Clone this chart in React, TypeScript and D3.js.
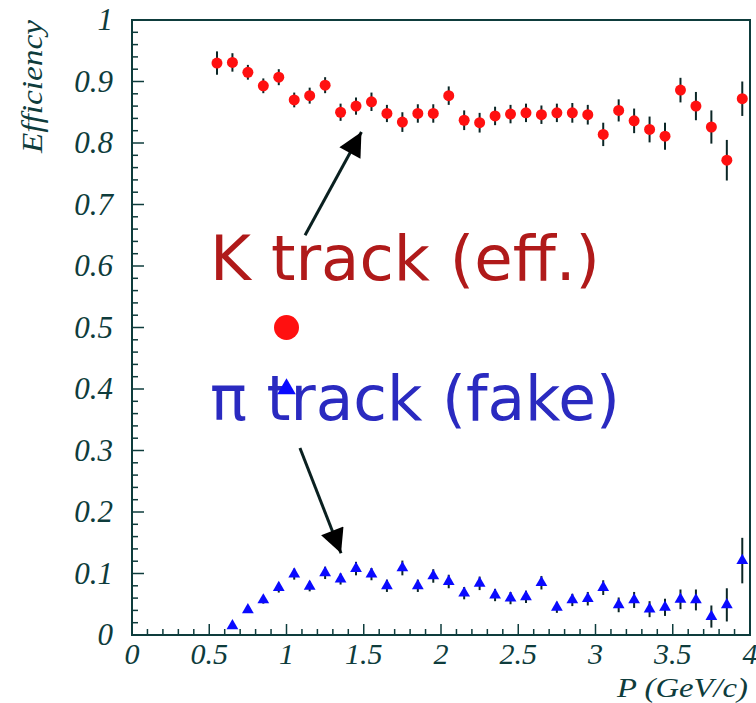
import React, { useEffect, useRef } from 'react';
import * as d3 from 'd3';

// K efficiency (red circles)
const kP = [0.55, 0.65, 0.75, 0.85, 0.95, 1.05, 1.15, 1.25, 1.35, 1.45, 1.55, 1.65, 1.75, 1.85, 1.95,
  2.05, 2.15, 2.25, 2.35, 2.45, 2.55, 2.65, 2.75, 2.85, 2.95, 3.05, 3.15, 3.25, 3.35, 3.45, 3.55,
  3.65, 3.75, 3.85, 3.95];
const kEff = [0.930, 0.931, 0.915, 0.893, 0.907, 0.870, 0.877, 0.894, 0.850, 0.860, 0.867, 0.848,
  0.834, 0.848, 0.848, 0.877, 0.837, 0.833, 0.844, 0.847, 0.849, 0.846, 0.849, 0.849, 0.846, 0.814,
  0.853, 0.836, 0.822, 0.811, 0.886, 0.860, 0.826, 0.772, 0.872];
const kErr = [0.019, 0.015, 0.012, 0.012, 0.013, 0.012, 0.013, 0.013, 0.014, 0.014, 0.015, 0.014,
  0.016, 0.015, 0.015, 0.015, 0.016, 0.016, 0.015, 0.015, 0.015, 0.015, 0.015, 0.016, 0.016, 0.019,
  0.018, 0.020, 0.021, 0.022, 0.020, 0.023, 0.027, 0.033, 0.028];

// pi fake rate (blue triangles)
const piP = [0.65, 0.75, 0.85, 0.95, 1.05, 1.15, 1.25, 1.35, 1.45, 1.55, 1.65, 1.75, 1.85, 1.95,
  2.05, 2.15, 2.25, 2.35, 2.45, 2.55, 2.65, 2.75, 2.85, 2.95, 3.05, 3.15, 3.25, 3.35, 3.45, 3.55,
  3.65, 3.75, 3.85, 3.95];
const piEff = [0.015, 0.041, 0.057, 0.077, 0.099, 0.079, 0.101, 0.091, 0.108, 0.099, 0.080, 0.109,
  0.080, 0.096, 0.087, 0.068, 0.084, 0.065, 0.060, 0.062, 0.085, 0.045, 0.057, 0.059, 0.077, 0.049,
  0.057, 0.042, 0.045, 0.058, 0.057, 0.030, 0.049, 0.121];
const piErr = [0.004, 0.005, 0.006, 0.008, 0.009, 0.008, 0.010, 0.009, 0.011, 0.010, 0.010, 0.012,
  0.010, 0.011, 0.011, 0.010, 0.011, 0.010, 0.010, 0.010, 0.011, 0.009, 0.010, 0.011, 0.012, 0.012,
  0.013, 0.013, 0.014, 0.016, 0.017, 0.018, 0.027, 0.037];

const xTicks = ['0', '0.5', '1', '1.5', '2', '2.5', '3', '3.5', '4'];
const yTicks = ['0', '0.1', '0.2', '0.3', '0.4', '0.5', '0.6', '0.7', '0.8', '0.9', '1'];

// annotations, in data units
const kLabel = { text: 'K track (eff.)', p: 0.505, e: 0.577 };
const piLabel = { text: 'π track (fake)', p: 0.505, e: 0.35 };
const kMarker = { p: 1.0, e: 0.5 };
const piMarker = { p: 1.0, e: 0.4 };
const arrows = [
  { p0: 1.12, e0: 0.65, p1: 1.485, e1: 0.818 },
  { p0: 1.087, e0: 0.304, p1: 1.353, e1: 0.133 },
];

const App = () => {
  const svgRef = useRef<SVGSVGElement>(null);

  useEffect(() => {
    const svg = d3.select(svgRef.current);
    svg.selectAll('*').remove();

    const width = 756;
    const height = 703;
    const axisColor = '#0e3c3c';
    const serif = '"Liberation Serif", "Times New Roman", serif';

    const x = d3.scaleLinear().domain([0, 4]).range([132, 750]);
    const y = d3.scaleLinear().domain([0, 1]).range([635, 20]);

    svg.attr('width', width).attr('height', height);
    svg.append('rect').attr('width', width).attr('height', height).attr('fill', 'white');

    // frame
    svg.append('rect')
      .attr('x', x(0)).attr('y', y(1))
      .attr('width', x(4) - x(0)).attr('height', y(0) - y(1))
      .attr('fill', 'none').attr('stroke', axisColor).attr('stroke-width', 2);

    // x ticks: every 0.1, longer at 0.5
    const xt = d3.range(0, 41).map(i => i / 10);
    svg.append('g').selectAll('line').data(xt).enter().append('line')
      .attr('x1', d => x(d)).attr('x2', d => x(d))
      .attr('y1', y(0))
      .attr('y2', (d, i) => y(0) - (i % 5 === 0 ? 11 : 6))
      .attr('stroke', axisColor).attr('stroke-width', 1.5);

    // y ticks: every 0.02, longer at 0.1
    const yt = d3.range(0, 51).map(i => i / 50);
    svg.append('g').selectAll('line').data(yt).enter().append('line')
      .attr('y1', d => y(d)).attr('y2', d => y(d))
      .attr('x1', x(0))
      .attr('x2', (d, i) => x(0) + (i % 5 === 0 ? 12 : 6))
      .attr('stroke', axisColor).attr('stroke-width', 1.5);

    // tick labels
    svg.append('g').selectAll('text').data(xTicks).enter().append('text')
      .attr('x', d => x(+d))
      .attr('y', 664)
      .attr('text-anchor', 'middle')
      .style('font-family', serif).style('font-style', 'italic').style('font-size', '30px')
      .attr('fill', axisColor)
      .text(d => d);

    svg.append('g').selectAll('text').data(yTicks).enter().append('text')
      .attr('x', 113)
      .attr('y', d => y(+d) + 10)
      .attr('text-anchor', 'end')
      .style('font-family', serif).style('font-style', 'italic').style('font-size', '31px')
      .attr('fill', axisColor)
      .text(d => d);

    // axis titles
    svg.append('text')
      .attr('transform', `translate(42,${y(1)}) rotate(-90)`)
      .attr('text-anchor', 'end')
      .attr('textLength', 133).attr('lengthAdjust', 'spacingAndGlyphs')
      .style('font-family', serif).style('font-style', 'italic').style('font-size', '29px')
      .attr('fill', axisColor)
      .text('Efficiency');

    svg.append('text')
      .attr('x', 617).attr('y', 697)
      .attr('textLength', 131).attr('lengthAdjust', 'spacingAndGlyphs')
      .style('font-family', serif).style('font-style', 'italic').style('font-size', '28px')
      .attr('fill', axisColor)
      .text('P (GeV/c)');

    // error bars
    const errColor = '#0b2626';
    svg.append('g').selectAll('line').data(kP).enter().append('line')
      .attr('x1', d => x(d)).attr('x2', d => x(d))
      .attr('y1', (d, i) => y(kEff[i] - kErr[i]))
      .attr('y2', (d, i) => y(kEff[i] + kErr[i]))
      .attr('stroke', errColor).attr('stroke-width', 2);

    svg.append('g').selectAll('line').data(piP).enter().append('line')
      .attr('x1', d => x(d)).attr('x2', d => x(d))
      .attr('y1', (d, i) => y(piEff[i] - piErr[i]))
      .attr('y2', (d, i) => y(piEff[i] + piErr[i]))
      .attr('stroke', errColor).attr('stroke-width', 2);

    // markers
    svg.append('g').selectAll('circle').data(kP).enter().append('circle')
      .attr('cx', d => x(d)).attr('cy', (d, i) => y(kEff[i]))
      .attr('r', 5.5).attr('fill', '#ff1010');

    const tri = d3.symbol().type(d3.symbolTriangle).size(60);
    svg.append('g').selectAll('path').data(piP).enter().append('path')
      .attr('d', tri)
      .attr('transform', (d, i) => `translate(${x(d)},${y(piEff[i])})`)
      .attr('fill', '#0a0aff');

    // annotation text
    svg.append('text')
      .attr('x', x(kLabel.p)).attr('y', y(kLabel.e))
      .attr('textLength', 390).attr('lengthAdjust', 'spacingAndGlyphs')
      .style('font-family', '"DejaVu Sans", sans-serif').style('font-size', '62px')
      .attr('fill', '#b01a1a')
      .text(kLabel.text);

    svg.append('circle')
      .attr('cx', x(kMarker.p)).attr('cy', y(kMarker.e))
      .attr('r', 12.5).attr('fill', '#ff1010');

    svg.append('text')
      .attr('x', x(piLabel.p)).attr('y', y(piLabel.e))
      .attr('textLength', 410).attr('lengthAdjust', 'spacingAndGlyphs')
      .style('font-family', '"DejaVu Sans", sans-serif').style('font-size', '62px')
      .attr('fill', '#2a2ac0')
      .text(piLabel.text);

    svg.append('path')
      .attr('d', d3.symbol().type(d3.symbolTriangle).size(150))
      .attr('transform', `translate(${x(piMarker.p)},${y(piMarker.e)})`)
      .attr('fill', '#0a0aff');

    // arrows
    const defs = svg.append('defs');
    defs.append('marker')
      .attr('id', 'arrowhead')
      .attr('viewBox', '0 0 10 10')
      .attr('refX', 10).attr('refY', 5)
      .attr('markerUnits', 'userSpaceOnUse')
      .attr('markerWidth', 28).attr('markerHeight', 24)
      .attr('orient', 'auto')
      .append('path').attr('d', 'M0,0 L10,5 L0,10 Z').attr('fill', '#000');

    svg.append('g').selectAll('line').data(arrows).enter().append('line')
      .attr('x1', d => x(d.p0)).attr('y1', d => y(d.e0))
      .attr('x2', d => x(d.p1)).attr('y2', d => y(d.e1))
      .attr('stroke', '#0a2020').attr('stroke-width', 3)
      .attr('marker-end', 'url(#arrowhead)');
  }, []);

  return (
    <div style={{ position: 'absolute', left: 0, top: 0, width: 756, height: 703 }}>
      <svg ref={svgRef} style={{ display: 'block', background: 'white' }} />
    </div>
  );
};

export default App;
